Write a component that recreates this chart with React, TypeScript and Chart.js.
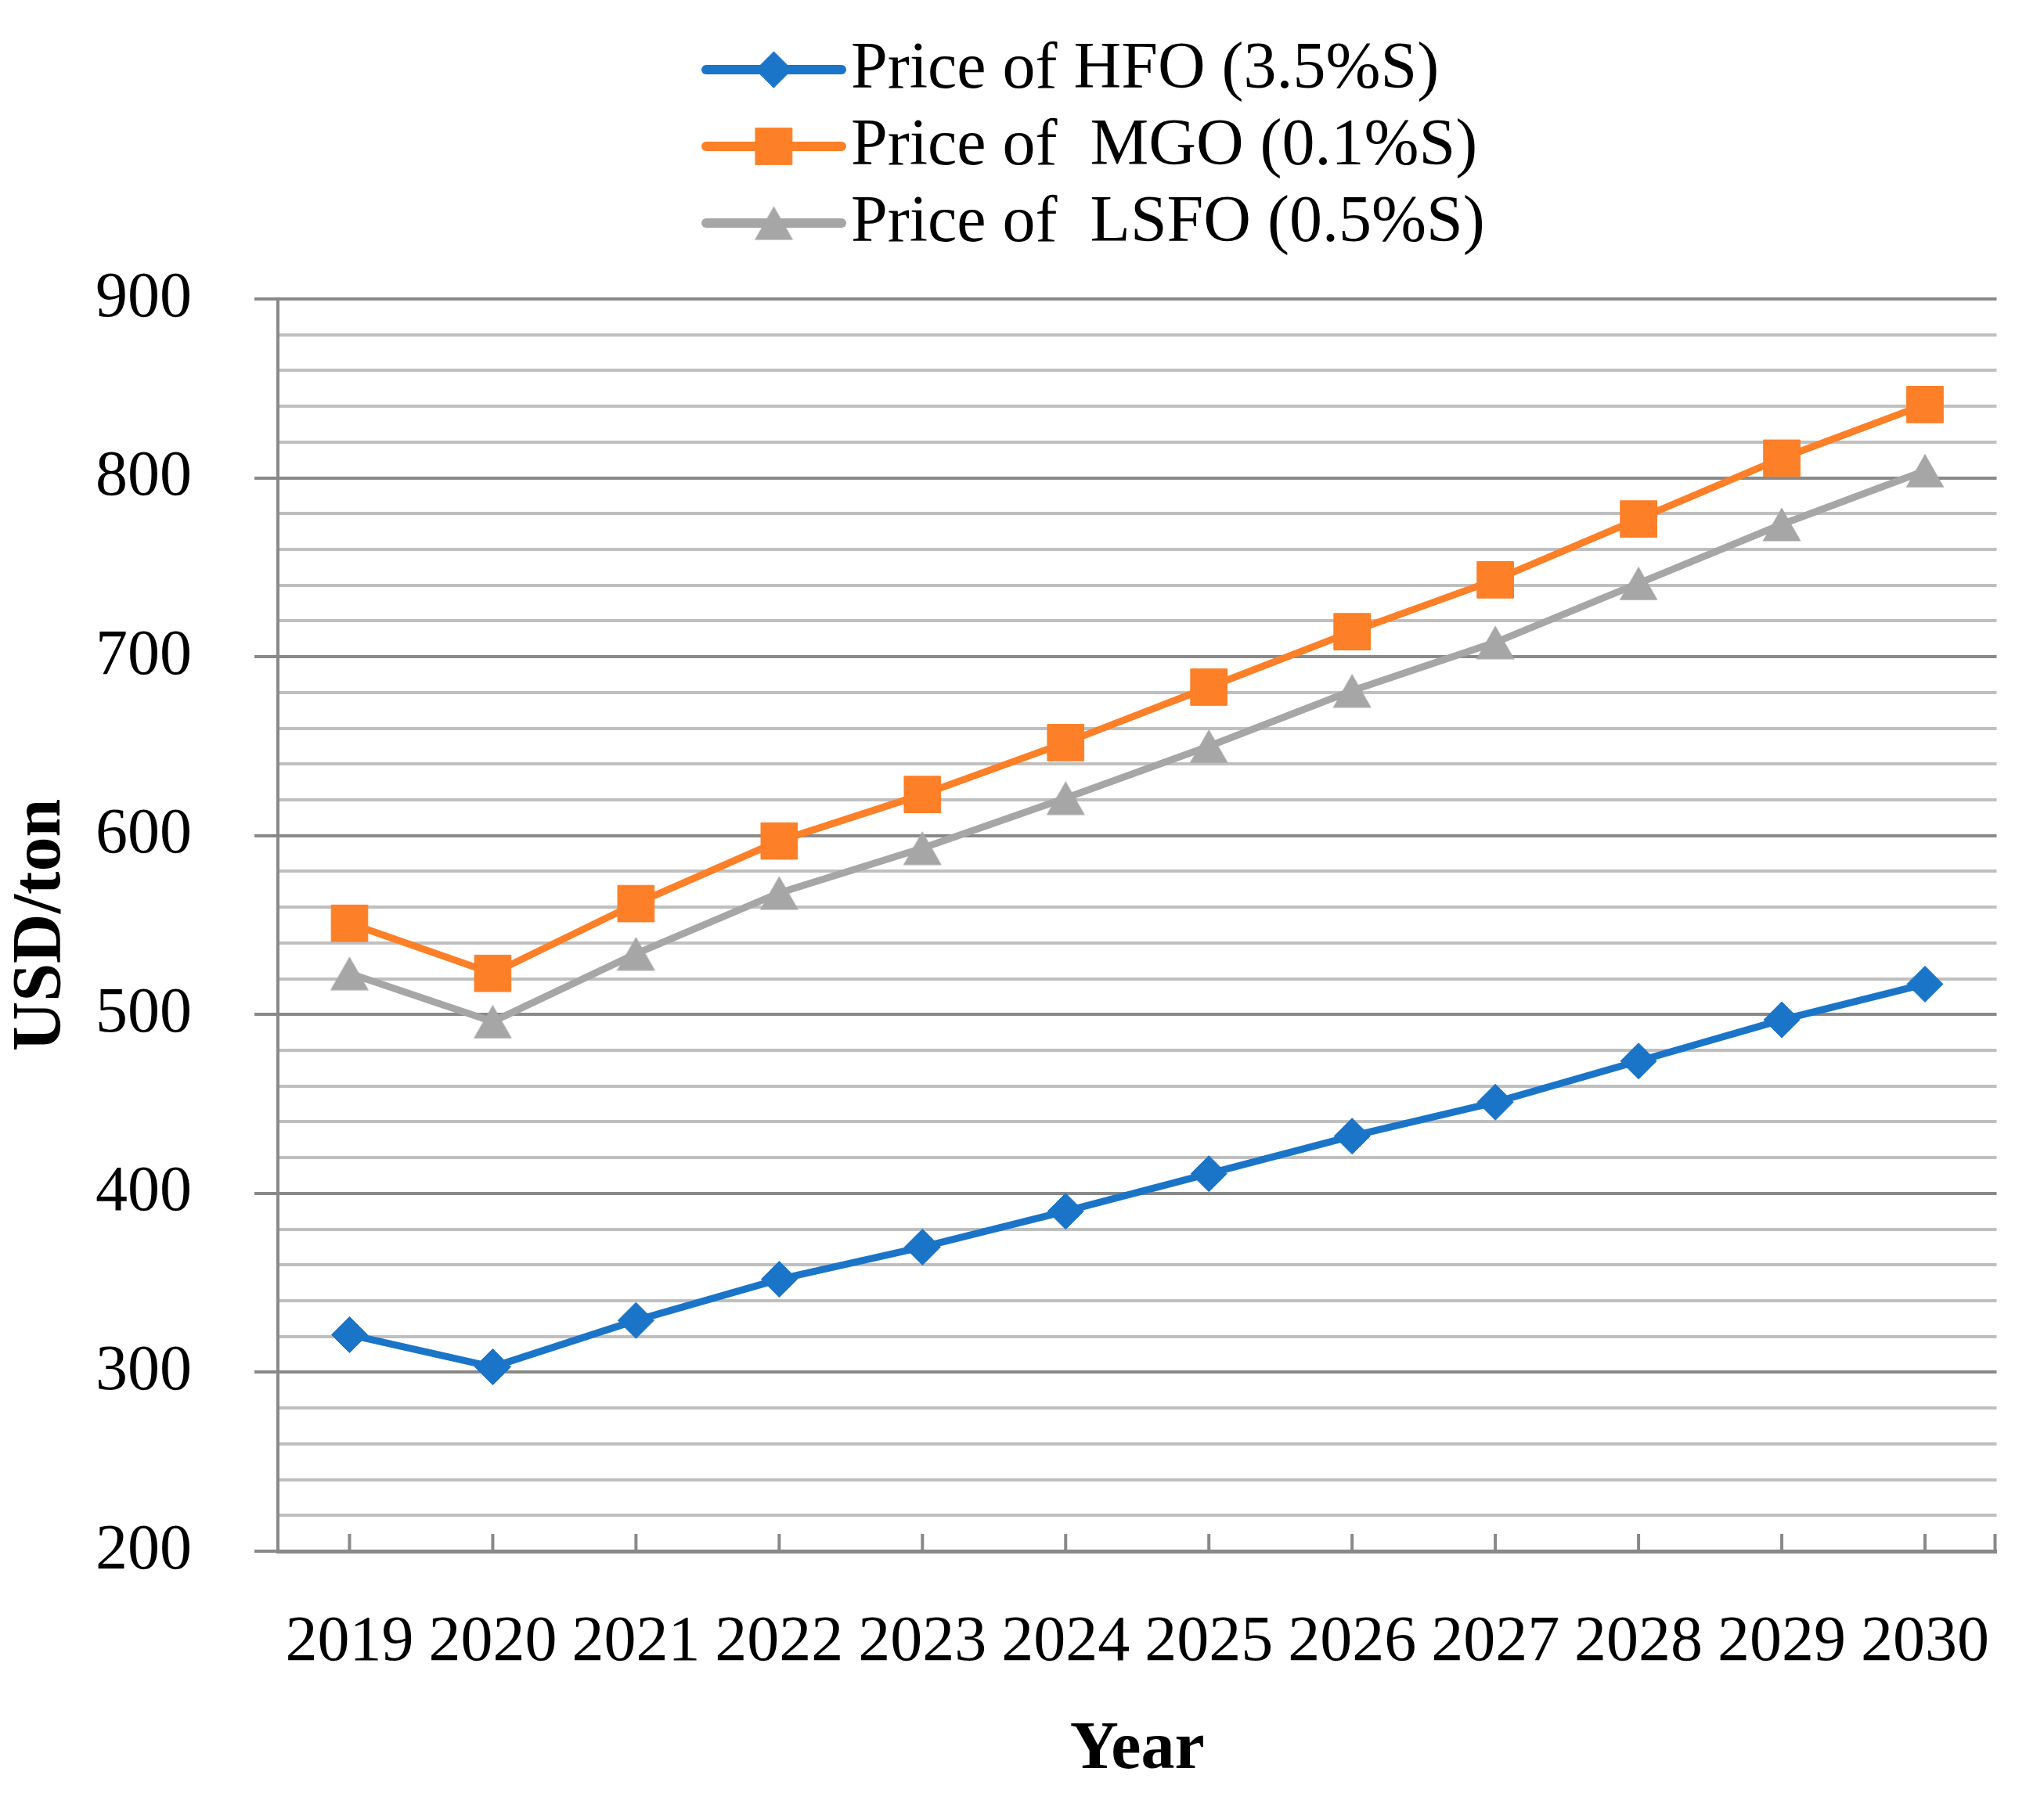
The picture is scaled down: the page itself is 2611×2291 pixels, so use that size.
import React, { useEffect, useRef } from 'react';
import { Chart, registerables } from 'chart.js';
import { drawPoint } from 'chart.js/helpers';

Chart.register(...registerables);

const years = ['2019', '2020', '2021', '2022', '2023', '2024', '2025', '2026', '2027', '2028', '2029', '2030'];
const hfoPrices = [321, 303, 329, 352, 370, 390, 411, 432, 451, 474, 497, 517];
const mgoPrices = [551, 523, 562, 597, 623, 652, 683, 714, 743, 777, 811, 841];
const lsfoPrices = [523, 496, 534, 568, 593, 621, 650, 681, 708, 741, 774, 804];
const seriesLabels = ['Price of HFO (3.5%S)', 'Price of  MGO (0.1%S)', 'Price of  LSFO (0.5%S)'];
const yAxisTitle = 'USD/ton';
const xAxisTitle = 'Year';

const FONT = '"Liberation Serif", "Times New Roman", serif';
const MAJOR = '#898989';
const MINOR = '#bfbfbf';
const BLUE = '#1a74c8';
const ORANGE = '#fd7f27';
const GRAY = '#a6a6a6';

function makeTriangle(color: string, w: number, h: number): HTMLCanvasElement {
  const c = document.createElement('canvas');
  c.width = w;
  c.height = h;
  const g = c.getContext('2d')!;
  g.fillStyle = color;
  g.beginPath();
  g.moveTo(w / 2, 0.5);
  g.lineTo(w - 0.5, h - 0.5);
  g.lineTo(0.5, h - 0.5);
  g.closePath();
  g.fill();
  return c;
}

const legendPlugin = {
  id: 'stackedLegend',
  afterDraw(chart: any) {
    const ctx = chart.ctx;
    const x0 = 902;
    const x1 = 1075;
    const textX = 1087;
    const rowY = [89, 187, 285];
    chart.data.datasets.forEach((ds: any, i: number) => {
      const y = rowY[i];
      const cx = (x0 + x1) / 2;
      ctx.save();
      ctx.strokeStyle = ds.borderColor;
      ctx.lineWidth = 12;
      ctx.lineCap = 'round';
      ctx.beginPath();
      ctx.moveTo(x0, y);
      ctx.lineTo(x1, y);
      ctx.stroke();
      ctx.fillStyle = ds.borderColor;
      ctx.strokeStyle = ds.borderColor;
      ctx.lineWidth = 1;
      drawPoint(ctx, { pointStyle: ds.pointStyle, radius: ds.pointRadius, rotation: 0, borderWidth: 1 } as any, cx, y);
      ctx.fillStyle = '#000';
      ctx.font = `84px ${FONT}`;
      ctx.textAlign = 'left';
      ctx.textBaseline = 'alphabetic';
      ctx.fillText(ds.label, textX, y + 23);
      ctx.restore();
    });
  },
};

const innerTicksPlugin = {
  id: 'innerTicks',
  beforeDatasetsDraw(chart: any) {
    const ctx = chart.ctx;
    const xs = chart.scales.x;
    const area = chart.chartArea;
    ctx.save();
    ctx.strokeStyle = MAJOR;
    ctx.lineWidth = 4;
    ctx.beginPath();
    const positions: number[] = [];
    for (let i = 0; i < xs.ticks.length; i++) positions.push(xs.getPixelForTick(i));
    positions.push(area.right - 2);
    positions.forEach((px) => {
      ctx.moveTo(px, area.bottom);
      ctx.lineTo(px, area.bottom - 22);
    });
    ctx.stroke();
    ctx.restore();
  },
};

export default function App() {
  const ref = useRef<HTMLCanvasElement | null>(null);

  useEffect(() => {
    if (!ref.current) return;
    const tri = makeTriangle(GRAY, 50, 44);
    const chart = new Chart(ref.current, {
      type: 'line',
      data: {
        labels: years,
        datasets: [
          {
            label: seriesLabels[0],
            data: hfoPrices,
            borderColor: BLUE,
            backgroundColor: BLUE,
            pointBackgroundColor: BLUE,
            pointBorderColor: BLUE,
            borderWidth: 9,
            pointStyle: 'rectRot',
            pointRadius: 23,
            pointBorderWidth: 1,
            tension: 0,
          },
          {
            label: seriesLabels[1],
            data: mgoPrices,
            borderColor: ORANGE,
            backgroundColor: ORANGE,
            pointBackgroundColor: ORANGE,
            pointBorderColor: ORANGE,
            borderWidth: 9,
            pointStyle: 'rect',
            pointRadius: 33,
            pointBorderWidth: 1,
            tension: 0,
          },
          {
            label: seriesLabels[2],
            data: lsfoPrices,
            borderColor: GRAY,
            backgroundColor: GRAY,
            pointBackgroundColor: GRAY,
            pointBorderColor: GRAY,
            borderWidth: 9,
            pointStyle: tri as any,
            pointRadius: 26,
            pointBorderWidth: 0,
            tension: 0,
          },
        ],
      },
      options: {
        responsive: false,
        animation: false,
        devicePixelRatio: 1,
        layout: { padding: { top: 382, right: 48, bottom: 0, left: 0 } },
        plugins: {
          legend: { display: false },
          tooltip: { enabled: false },
        },
        scales: {
          x: {
            type: 'category',
            offset: true,
            grid: { drawOnChartArea: false, drawTicks: false },
            border: { display: true, color: MAJOR, width: 5 },
            ticks: {
              color: '#000',
              font: { family: FONT, size: 82 },
              padding: 68,
              maxRotation: 0,
              autoSkip: false,
            },
            title: {
              display: true,
              text: xAxisTitle,
              color: '#000',
              font: { family: FONT, size: 86, weight: 'bold' },
              padding: { top: 0, bottom: 3 },
            },
            afterFit(scale: any) {
              scale.height = 309;
            },
          },
          y: {
            min: 200,
            max: 900,
            grid: {
              color: (c: any) => (c.tick && c.tick.value % 100 === 0 ? MAJOR : MINOR),
              lineWidth: 4,
              drawTicks: true,
              tickLength: 30,
              tickWidth: 4,
              tickColor: (c: any) => (c.tick && c.tick.value % 100 === 0 ? MAJOR : 'rgba(0,0,0,0)'),
            },
            border: { display: true, color: MAJOR, width: 4 },
            ticks: {
              stepSize: 20,
              autoSkip: false,
              color: '#000',
              font: { family: FONT, size: 82 },
              padding: 80,
              callback: (v: any) => (Number(v) % 100 === 0 ? String(v) : ''),
            },
            title: {
              display: true,
              text: yAxisTitle,
              color: '#000',
              font: { family: FONT, size: 88, weight: 'bold' },
              padding: { top: 0, bottom: 0 },
            },
            afterFit(scale: any) {
              scale.width = 355;
            },
          },
        },
      },
      plugins: [legendPlugin, innerTicksPlugin],
    });
    return () => chart.destroy();
  }, []);

  return (
    <div style={{ position: 'absolute', left: 0, top: 0, width: 2611, height: 2291, background: '#fff' }}>
      <canvas ref={ref} width={2611} height={2291} style={{ display: 'block', width: 2611, height: 2291 }} />
    </div>
  );
}
